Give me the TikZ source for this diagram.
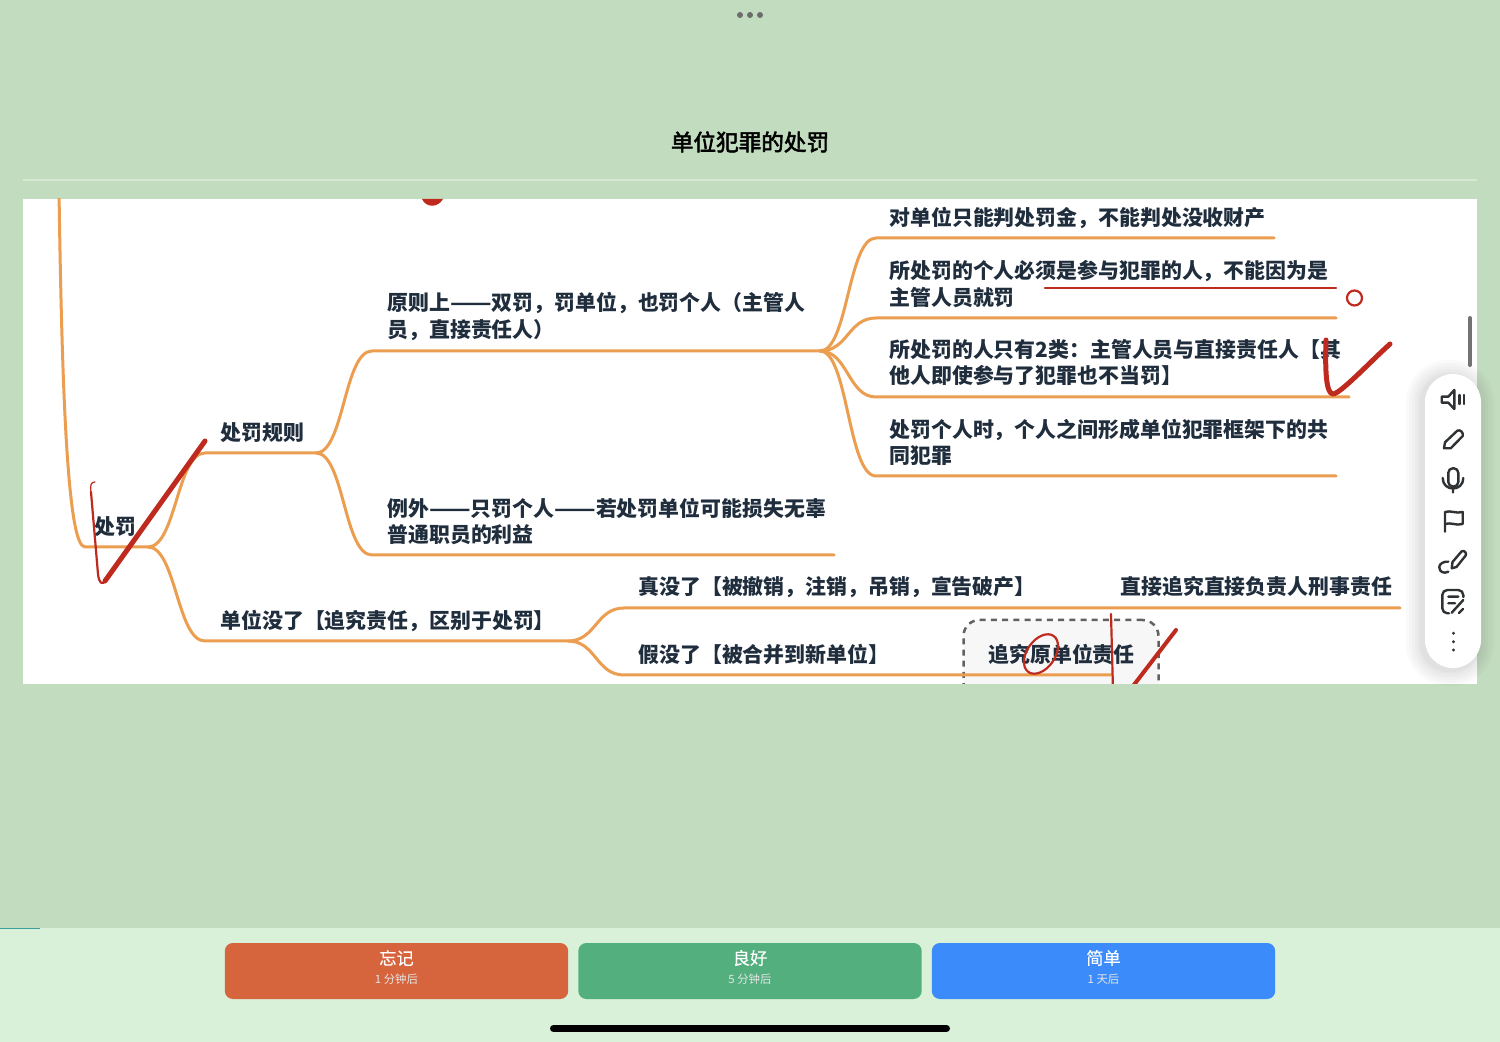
\documentclass[tikz,border=0pt]{standalone}
\usepackage{fontspec}
\setmainfont{Noto Sans CJK SC}
\newfontfamily\semifont[FakeBold=0.35]{Noto Sans CJK SC}
\newfontfamily\titlefont[FakeBold=2.5]{Noto Sans CJK SC}
\newcommand{\longdash}{\scalebox{1.16}[1]{——}}
\definecolor{bg_green}{HTML}{C2DCBF}
\definecolor{bar_green}{HTML}{D9F1D9}
\definecolor{mm_orange}{HTML}{EC9E50}
\definecolor{mm_ink}{HTML}{1F2D3D}
\definecolor{pen_red}{HTML}{BF2A1E}
\definecolor{icon_ink}{HTML}{2F3234}
\tikzset{
	mm_text/.style = {anchor=west, align=left, inner sep=0pt, text=mm_ink, font=\fontsize{10.45}{13.25}\selectfont\bfseries},
	mm_line/.style = {draw=mm_orange, line width=1.5pt, line cap=round},
	pen_thin/.style = {draw=pen_red, line width=1.1pt, line cap=round, line join=round},
	pen_thick/.style = {draw=pen_red, line width=2.5pt, line cap=round, line join=round},
	icon_line/.style = {draw=icon_ink, line width=1.2pt, line cap=round, line join=round},
	ui_button/.style = {inner sep=0pt, minimum width=171.7pt, minimum height=28pt, rounded corners=4pt},
	ui_big/.style = {inner sep=0pt, text=white, font=\semifont\fontsize{8.6}{10}\selectfont},
	ui_small/.style = {inner sep=0pt, text=white!90!black, font=\fontsize{5.7}{7}\selectfont}
}

\begin{document}
\begin{tikzpicture}[x=0.5pt,y=-0.5pt]
	\useasboundingbox (0,0) rectangle (1500,1042);
	\fill[bg_green] (0,0) rectangle (1500,1042);
	% top of the page
	\fill[gray!85!black] (740,15) circle (3) (750,15) circle (3) (760,15) circle (3);
	\node[inner sep=0pt, text=black, font=\titlefont\fontsize{11.3}{13}\selectfont] (title) at (750,142) {单位犯罪的处罚};
	\draw[white!35!bg_green, line width=0.6pt] (23,180) -- (1477,180);
	% the card
	\fill[white] (23,199) rectangle (1477,684);
	\begin{scope}
		\clip (23,199) rectangle (1477,684);
		\node[draw=black!62, fill=black!3, dash pattern=on 3pt off 2.6pt, line width=1.25pt, rounded corners=8pt, minimum width=97.5pt, minimum height=50pt, inner sep=0pt] (keep_box) at (1061,670) {};
		% branch points and line ends
		\coordinate (top_end) at (59,190);
		\coordinate (root_in) at (85,547);
		\coordinate (root) at (148,547);
		\coordinate (rule_a) at (205,453);
		\coordinate (rule) at (316,453);
		\coordinate (gone_a) at (205,641);
		\coordinate (gone) at (568,641);
		\coordinate (dual_a) at (372,351);
		\coordinate (dual) at (820,351);
		\coordinate (excp_a) at (372,555);
		\coordinate (excp_b) at (834,555);
		\coordinate (leaf1_a) at (876,238);
		\coordinate (leaf1_b) at (1274,238);
		\coordinate (leaf2_a) at (876,318);
		\coordinate (leaf2_b) at (1336,318);
		\coordinate (leaf3_a) at (876,397);
		\coordinate (leaf3_b) at (1349,397);
		\coordinate (leaf4_a) at (876,476);
		\coordinate (leaf4_b) at (1336,476);
		\coordinate (real_a) at (624,608);
		\coordinate (real_b) at (1400,608);
		\coordinate (fake_a) at (624,675);
		\coordinate (fake_b) at (1112,675);
		\draw[mm_line] (top_end) .. controls (62,400) and (68,547) .. (root_in) -- (root);
		\draw[mm_line] (root) .. controls +(28,0) and +(-28,0) .. (rule_a) -- (rule);
		\draw[mm_line] (root) .. controls +(28,0) and +(-28,0) .. (gone_a) -- (gone);
		\draw[mm_line] (rule) .. controls +(28,0) and +(-28,0) .. (dual_a) -- (dual);
		\draw[mm_line] (rule) .. controls +(28,0) and +(-28,0) .. (excp_a) -- (excp_b);
		\draw[mm_line] (dual) .. controls +(28,0) and +(-28,0) .. (leaf1_a) -- (leaf1_b);
		\draw[mm_line] (dual) .. controls +(28,0) and +(-28,0) .. (leaf2_a) -- (leaf2_b);
		\draw[mm_line] (dual) .. controls +(28,0) and +(-28,0) .. (leaf3_a) -- (leaf3_b);
		\draw[mm_line] (dual) .. controls +(28,0) and +(-28,0) .. (leaf4_a) -- (leaf4_b);
		\draw[mm_line] (gone) .. controls +(28,0) and +(-28,0) .. (real_a) -- (real_b);
		\draw[mm_line] (gone) .. controls +(28,0) and +(-28,0) .. (fake_a) -- (fake_b);
		% texts
		\node[mm_text] (t_root) at (94,527) {处罚};
		\node[mm_text] (t_rule) at (220,433) {处罚规则};
		\node[mm_text] (t_gone) at (220,621) {单位没了【追究责任，区别于处罚】};
		\node[mm_text] (t_dual) at (387,316.5) {原则上\longdash 双罚，罚单位，也罚个人（主管人\\员，直接责任人）};
		\node[mm_text] (t_excp) at (387,521.5) {例外\longdash 只罚个人\longdash 若处罚单位可能损失无辜\\普通职员的利益};
		\node[mm_text] (t_leaf1) at (889,218) {对单位只能判处罚金，不能判处没收财产};
		\node[mm_text] (t_leaf2) at (889,284) {所处罚的个人必须是参与犯罪的人，不能因为是\\主管人员就罚};
		\node[mm_text] (t_leaf3) at (889,362.5) {所处罚的人只有2类：主管人员与直接责任人【其\\他人即使参与了犯罪也不当罚】};
		\node[mm_text] (t_leaf4) at (889,442.5) {处罚个人时，个人之间形成单位犯罪框架下的共\\同犯罪};
		\node[mm_text] (t_real) at (638,587) {真没了【被撤销，注销，吊销，宣告破产】};
		\node[mm_text] (t_fake) at (638,654) {假没了【被合并到新单位】};
		\node[mm_text] (t_direct) at (1120,587) {直接追究直接负责人刑事责任};
		\node[mm_text] (t_keep) at (988,654) {追究原单位责任};
		% red pen marks
		\fill[pen_red] (422,199) .. controls (426,208) and (438,208) .. (443,199) -- cycle;
		\draw[pen_thin, line width=1.25pt] (1045,288) -- (1336,288);
		\draw[pen_thin] (1354.5,298) circle (7.5);
		\draw[pen_thick] (1326,340) .. controls (1325,370) and (1326,394) .. (1333,394) .. controls (1340,394) and (1370,362) .. (1390,344);
		\draw[pen_thin, line width=0.6pt] (95,482) .. controls (91,482) and (90,485) .. (91,492);
		\draw[pen_thin] (91,492) -- (98,574) .. controls (99,583) and (102,586) .. (106,580);
		\draw[pen_thick] (105,581) -- (205,441);
		\draw[pen_thin, rotate around={-35:(1041,654)}] (1041,654) ellipse (14 and 22);
		\draw[pen_thin] (1111,614) -- (1113,690);
		\draw[pen_thick, line width=2pt] (1176,630) -- (1130,690);
	\end{scope}
	% scroll bar and tool strip
	\draw[gray!90!black, line width=2pt, line cap=round] (1470,318) -- (1470,365);
	\foreach \grow in {16,13,10,7,4,2}
		\fill[black, opacity=0.018, rounded corners=13pt+\grow*0.5pt] (1425-\grow-3,374-\grow+2) rectangle (1481+\grow-3,668+\grow+2);
	\fill[white, rounded corners=14pt] (1425,374) rectangle (1481,668);
	\draw[icon_line] (1441.7,396.7) -- (1448.3,396.7) -- (1454.3,390) -- (1454.3,409) -- (1448.3,402.7) -- (1441.7,402.7) -- cycle;
	\draw[icon_line] (1459.5,395) -- (1459.5,404) (1464,395) -- (1464,404);
	\draw[icon_line] (1444,448.3) -- (1445,442.3) -- (1457.3,430.7) .. controls (1460,429) and (1464,433) .. (1462.7,436) -- (1450.7,448.3) -- cycle;
	\draw[icon_line, rounded corners=4.5pt/2] (1448.3,468.3) rectangle (1458.3,486.5);
	\draw[icon_line] (1442.7,478) .. controls (1442.7,492) and (1463.3,492) .. (1463.3,478) (1453,489) -- (1453,492.5);
	\draw[icon_line] (1445,531.7) -- (1445,512) .. controls (1451,510) and (1456,514) .. (1462.7,512) -- (1462.7,524) .. controls (1456,526) and (1451,522) .. (1445,524);
	\draw[icon_line] (1451.7,568.3) -- (1452.5,562) -- (1461.5,551.5) .. controls (1464,549.5) and (1467,553) .. (1465.7,555.5) -- (1456.5,567) -- cycle;
	\draw[icon_line] (1448.3,561.7) .. controls (1444,561) and (1439,564) .. (1439.3,567) .. controls (1439,572) and (1444,574) .. (1448.3,571.7);
	\draw[icon_line, rounded corners=2.5pt] (1449,613.3) -- (1442.3,613.3) -- (1442.3,590) -- (1463.3,590) -- (1463.3,597);
	\draw[icon_line] (1448.3,596.7) -- (1458.3,596.7) (1448.3,603.3) -- (1455,603.3) (1451.7,612.7) -- (1463.3,600) (1459,613) -- (1463,609);
	\fill[icon_ink] (1453.5,633.3) circle (1.6) (1453.5,641.7) circle (1.6) (1453.5,650) circle (1.6);
	% answer bar
	\fill[bar_green] (0,928) rectangle (1500,1042);
	\draw[teal!75!white, line width=0.6pt] (0,928.5) -- (40,928.5);
	\node[ui_button, fill={rgb,255:red,214;green,101;blue,61}] (forget) at (396.5,971) {};
	\node[ui_button, fill={rgb,255:red,83;green,176;blue,126}] (good) at (750,971) {};
	\node[ui_button, fill={rgb,255:red,60;green,139;blue,251}] (easy) at (1103.5,971) {};
	\node[ui_big] (forget_t) at (396.5,958) {忘记};
	\node[ui_small] (forget_s) at (396.5,979) {1 分钟后};
	\node[ui_big] (good_t) at (750,958) {良好};
	\node[ui_small] (good_s) at (750,979) {5 分钟后};
	\node[ui_big] (easy_t) at (1103.5,958) {简单};
	\node[ui_small] (easy_s) at (1103.5,979) {1 天后};
	\draw[black, line width=3.5pt, line cap=round] (553.5,1028.5) -- (946.5,1028.5);
\end{tikzpicture}
\end{document}
